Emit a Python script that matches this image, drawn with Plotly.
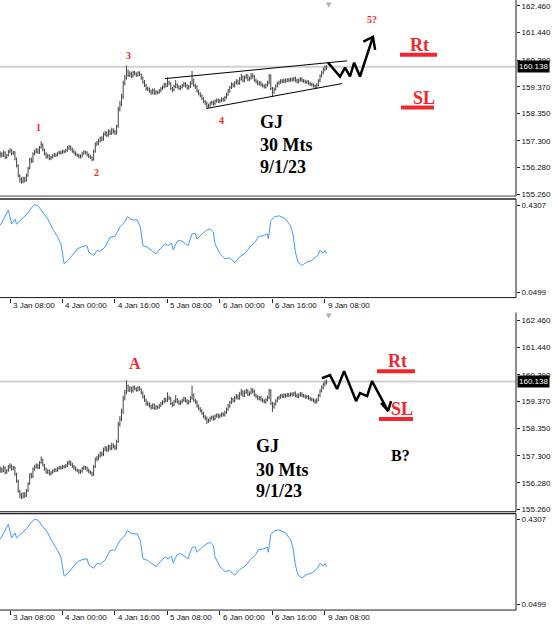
import plotly.graph_objects as go

W, H = 553, 625

# ---------------- data (GBPJPY 30 min bars) ----------------
bar_close = [
    156.80, 156.72, 156.85, 156.66, 156.74, 156.88, 156.92, 156.80, 156.86, 156.60,
    156.35, 155.95, 155.82, 155.74, 155.86, 155.78, 155.98, 156.25, 156.58, 156.52,
    156.80, 156.88, 156.95, 156.86, 157.05, 157.15, 156.95, 156.80, 156.68, 156.74,
    156.62, 156.66, 156.72, 156.78, 156.74, 156.82, 156.86, 156.84, 156.90, 156.88,
    156.94, 157.02, 157.08, 156.98, 156.90, 156.84, 156.78, 156.74, 156.68, 156.72,
    156.82, 156.88, 156.84, 156.76, 156.70, 156.66, 156.58, 156.90, 157.18, 157.22,
    157.30, 157.40, 157.36, 157.55, 157.60, 157.52, 157.66, 157.58, 157.72, 157.65,
    157.60, 157.85, 158.50, 158.70, 158.98, 159.50, 159.70, 159.98, 159.80, 159.86,
    159.78, 159.92, 159.86, 159.80, 159.90, 159.84, 159.70, 159.55, 159.42, 159.30,
    159.28, 159.20, 159.14, 159.24, 159.12, 159.18, 159.14, 159.22, 159.30, 159.36,
    159.46, 159.40, 159.55, 159.48, 159.30, 159.24, 159.38, 159.44, 159.36, 159.30,
    159.36, 159.42, 159.48, 159.40, 159.32, 159.38, 159.50, 159.62, 159.42, 159.36,
    159.20, 159.10, 159.02, 158.92, 158.80, 158.74, 158.62, 158.66, 158.74, 158.78,
    158.72, 158.82, 158.86, 158.80, 158.84, 158.90, 158.86, 158.96, 159.08, 159.20,
    159.34, 159.46, 159.40, 159.52, 159.58, 159.50, 159.66, 159.74, 159.60, 159.72,
    159.78, 159.64, 159.70, 159.80, 159.76, 159.62, 159.56, 159.48, 159.52, 159.44,
    159.40, 159.36, 159.44, 159.52, 159.78, 159.30, 159.16, 159.28, 159.40, 159.50,
    159.54, 159.60, 159.56, 159.62, 159.58, 159.64, 159.60, 159.66, 159.62, 159.68,
    159.60, 159.56, 159.62, 159.66, 159.60, 159.58, 159.54, 159.56, 159.50, 159.46,
    159.44, 159.40, 159.36, 159.42, 159.60, 159.78, 159.90, 160.02, 160.08, 160.14,
]
bar_high = [
    156.90, 156.86, 156.93, 156.90, 156.80, 156.95, 157.02, 156.98, 156.92, 156.90,
    156.66, 156.40, 156.02, 155.90, 155.92, 155.92, 156.04, 156.30, 156.64, 156.66,
    156.86, 156.96, 157.02, 157.00, 157.10, 157.28, 157.20, 157.00, 156.86, 156.80,
    156.78, 156.72, 156.78, 156.84, 156.82, 156.88, 156.92, 156.92, 156.96, 156.95,
    157.00, 157.10, 157.14, 157.12, 157.04, 156.96, 156.90, 156.82, 156.80, 156.78,
    156.88, 156.94, 156.92, 156.90, 156.82, 156.76, 156.70, 156.96, 157.24, 157.30,
    157.38, 157.46, 157.48, 157.62, 157.68, 157.66, 157.74, 157.72, 157.80, 157.78,
    157.72, 157.92, 158.60, 158.82, 159.10, 159.60, 159.82, 160.18, 160.02, 159.96,
    159.94, 159.98, 159.98, 159.92, 159.96, 159.96, 159.88, 159.76, 159.62, 159.48,
    159.38, 159.34, 159.26, 159.30, 159.30, 159.24, 159.22, 159.28, 159.36, 159.42,
    159.52, 159.52, 159.72, 159.60, 159.54, 159.36, 159.44, 159.62, 159.50, 159.42,
    159.42, 159.48, 159.56, 159.54, 159.46, 159.44, 159.58, 159.98, 159.68, 159.48,
    159.42, 159.26, 159.16, 159.08, 158.98, 158.86, 158.80, 158.72, 158.80, 158.84,
    158.84, 158.88, 158.92, 158.92, 158.90, 158.96, 158.96, 159.02, 159.14, 159.28,
    159.40, 159.54, 159.52, 159.58, 159.66, 159.64, 159.74, 159.86, 159.80, 159.80,
    159.86, 159.84, 159.76, 159.90, 159.88, 159.82, 159.68, 159.62, 159.58, 159.58,
    159.50, 159.46, 159.50, 159.60, 159.86, 159.84, 159.36, 159.34, 159.46, 159.56,
    159.60, 159.66, 159.66, 159.68, 159.68, 159.70, 159.70, 159.72, 159.72, 159.74,
    159.76, 159.68, 159.68, 159.74, 159.72, 159.66, 159.64, 159.62, 159.62, 159.56,
    159.52, 159.50, 159.46, 159.50, 159.66, 159.84, 159.98, 160.10, 160.18, 160.20,
]
bar_low = [
    156.66, 156.66, 156.68, 156.60, 156.62, 156.70, 156.82, 156.74, 156.76, 156.55,
    156.28, 155.90, 155.70, 155.66, 155.68, 155.70, 155.74, 155.92, 156.20, 156.44,
    156.46, 156.74, 156.82, 156.80, 156.80, 157.00, 156.90, 156.74, 156.62, 156.62,
    156.56, 156.56, 156.62, 156.68, 156.68, 156.70, 156.78, 156.78, 156.80, 156.82,
    156.84, 156.88, 156.96, 156.92, 156.84, 156.78, 156.72, 156.68, 156.62, 156.62,
    156.66, 156.76, 156.78, 156.70, 156.64, 156.60, 156.52, 156.54, 156.84, 157.10,
    157.14, 157.24, 157.28, 157.30, 157.48, 157.44, 157.46, 157.52, 157.52, 157.58,
    157.52, 157.54, 157.80, 158.42, 158.62, 158.90, 159.42, 159.64, 159.74, 159.74,
    159.70, 159.72, 159.80, 159.74, 159.76, 159.78, 159.64, 159.48, 159.36, 159.22,
    159.20, 159.14, 159.06, 159.08, 159.06, 159.06, 159.08, 159.10, 159.16, 159.24,
    159.30, 159.34, 159.36, 159.42, 159.24, 159.16, 159.20, 159.32, 159.30, 159.24,
    159.24, 159.30, 159.36, 159.34, 159.26, 159.26, 159.32, 159.44, 159.36, 159.28,
    159.14, 159.04, 158.96, 158.86, 158.74, 158.66, 158.52, 158.56, 158.60, 158.68,
    158.64, 158.66, 158.76, 158.74, 158.74, 158.78, 158.80, 158.80, 158.90, 159.02,
    159.14, 159.28, 159.34, 159.34, 159.46, 159.44, 159.44, 159.60, 159.54, 159.54,
    159.66, 159.58, 159.58, 159.64, 159.68, 159.56, 159.50, 159.42, 159.42, 159.38,
    159.34, 159.30, 159.30, 159.38, 159.46, 159.24, 158.98, 159.10, 159.22, 159.34,
    159.44, 159.48, 159.50, 159.50, 159.52, 159.54, 159.54, 159.56, 159.56, 159.58,
    159.54, 159.50, 159.50, 159.56, 159.54, 159.52, 159.48, 159.48, 159.44, 159.40,
    159.38, 159.34, 159.28, 159.30, 159.38, 159.54, 159.72, 159.84, 159.96, 160.02,
]
first_open = 156.74
last_price = 160.138

# oscillator (blue line) points: bar index, value
ind_x = [0, 4, 5, 7, 9, 10, 13, 16, 19.5, 21,
         23, 26, 29, 32, 35, 37, 38, 39, 41.5, 44,
         47, 50, 53, 54, 57, 59, 61, 64, 67, 70,
         73, 76, 77.5, 80.5, 83.5, 85.5, 87, 89.5, 92.5, 95,
         97.5, 100.5, 102.5, 104.5, 105.5, 108, 110, 111.5, 114.5, 117,
         119, 120, 123, 126, 128, 130, 131, 134, 137, 140,
         143, 146, 149.5, 152.5, 155.5, 157.5, 160.5, 163, 163.5, 165,
         167.5, 170, 174, 177, 178.5, 180, 181.5, 184, 187, 190,
         193.5, 195, 197, 198, 199]
ind_y = [0.341, 0.392, 0.409, 0.348, 0.370, 0.348, 0.370, 0.389, 0.422, 0.432,
         0.428, 0.400, 0.370, 0.327, 0.292, 0.262, 0.219, 0.176, 0.190, 0.211,
         0.240, 0.250, 0.254, 0.227, 0.211, 0.233, 0.230, 0.248, 0.291, 0.294,
         0.336, 0.357, 0.380, 0.366, 0.366, 0.336, 0.254, 0.248, 0.233, 0.219,
         0.240, 0.262, 0.254, 0.265, 0.236, 0.274, 0.277, 0.269, 0.254, 0.305,
         0.308, 0.283, 0.305, 0.322, 0.327, 0.313, 0.262, 0.219, 0.197, 0.201,
         0.180, 0.205, 0.222, 0.250, 0.269, 0.294, 0.298, 0.305, 0.283, 0.363,
         0.380, 0.384, 0.370, 0.341, 0.305, 0.226, 0.183, 0.168, 0.183, 0.190,
         0.211, 0.233, 0.222, 0.233, 0.219]

price_ticks = [155.26, 156.28, 157.30, 158.35, 159.37, 160.39, 161.44, 162.46]
price_tick_text = ["155.260", "156.280", "157.300", "158.350", "159.370", "160.390", "161.440", "162.460"]
ind_ticks = [0.0499, 0.4307]
ind_tick_text = ["0.0499", "0.4307"]
date_bars = [6, 38, 70, 102, 134, 166, 198]
date_labels = ["3 Jan 08:00", "4 Jan 00:00", "4 Jan 16:00", "5 Jan 08:00",
               "6 Jan 00:00", "6 Jan 16:00", "9 Jan 08:00"]

# hand-drawn analysis lines (bar index / price)
wedge_up_x, wedge_up_y = [100.5, 211.5], [159.68, 160.36]
wedge_lo_x, wedge_lo_y = [126.1, 208.4], [158.54, 159.49]
top_proj_x = [199.9, 207.2, 210.3, 213.3, 215.8, 219.4, 227.3]
top_proj_y = [160.29, 159.76, 160.10, 159.76, 160.29, 159.76, 161.28]
top_head_x = [221.4, 227.3, 228.6]
top_head_y = [161.10, 161.28, 160.78]
bot_proj_x = [196.2, 201.1, 205.4, 209.7, 217.0, 219.4, 223.7, 226.7, 236.5]
bot_proj_y = [160.26, 160.38, 159.85, 160.53, 159.39, 159.69, 159.58, 160.15, 159.01]
bot_head_x = [232.2, 236.5, 238.3]
bot_head_y = [159.315, 159.012, 159.39]

# ---------------- figure ----------------
def fx(px):
    return px / W

def fy(py):
    return 1 - py / H

RIGHT = 516
XR = [-0.1, 314.5]
BAR_C = "#454545"
BLUE = "#3d9bff"
RED = "#f2262b"
TICKF = dict(family="Liberation Sans, Arial", size=8, color="#111111")

opens = [first_open] + bar_close[:-1]
idx = list(range(len(bar_close)))

fig = go.Figure()
for xa, ya in [("x", "y"), ("x3", "y3")]:
    fig.add_trace(go.Ohlc(
        x=idx, open=opens, high=bar_high, low=bar_low, close=bar_close,
        xaxis=xa, yaxis=ya, tickwidth=0.3,
        increasing=dict(line=dict(color=BAR_C, width=1)),
        decreasing=dict(line=dict(color=BAR_C, width=1)),
        hoverinfo="skip", showlegend=False))
for xa, ya in [("x2", "y2"), ("x4", "y4")]:
    fig.add_trace(go.Scatter(x=ind_x, y=ind_y, mode="lines", xaxis=xa, yaxis=ya,
                             line=dict(color=BLUE, width=1), hoverinfo="skip", showlegend=False))

def line_trace(xs, ys, xa, ya, width, color="black"):
    fig.add_trace(go.Scatter(x=xs, y=ys, mode="lines", xaxis=xa, yaxis=ya,
                             line=dict(color=color, width=width), hoverinfo="skip",
                             showlegend=False, cliponaxis=False))

line_trace(wedge_up_x, wedge_up_y, "x", "y", 1)
line_trace(wedge_lo_x, wedge_lo_y, "x", "y", 1)
line_trace(top_proj_x, top_proj_y, "x", "y", 2.5)
line_trace(top_head_x, top_head_y, "x", "y", 2.5)
line_trace(bot_proj_x, bot_proj_y, "x3", "y3", 2.5)
line_trace(bot_head_x, bot_head_y, "x3", "y3", 2.5)

P1 = (0, 197)
I1 = (200, 299)
P2 = (316, 514)
I2 = (516, 613)

def xax(anchor, ticks):
    d = dict(domain=[0, fx(RIGHT)], range=XR, anchor=anchor, showgrid=False, zeroline=False,
             showline=False, showticklabels=False, fixedrange=True,
             rangeslider=dict(visible=False))
    if ticks:
        d.update(tickmode="array", tickvals=date_bars, ticks="outside", ticklen=4,
                 tickcolor="#222222", tickwidth=1)
    else:
        d.update(ticks="")
    return d

def yax(anchor, dom, rng, tv, tt):
    return dict(domain=[fy(dom[1]), fy(dom[0])], range=rng, anchor=anchor, side="right",
                showgrid=False, zeroline=False, showline=False, tickmode="array",
                tickvals=tv, ticktext=tt, ticks="outside", ticklen=3, tickcolor="#222222",
                tickfont=TICKF, fixedrange=True)

fig.update_layout(
    width=W, height=H, margin=dict(l=0, r=0, t=0, b=0),
    paper_bgcolor="white", plot_bgcolor="white", showlegend=False,
    xaxis=xax("y", False), xaxis2=xax("y2", True), xaxis3=xax("y3", False), xaxis4=xax("y4", True),
    yaxis=yax("x", P1, [155.184, 162.689], price_ticks, price_tick_text),
    yaxis2=yax("x2", I1, [0.0283, 0.4567], ind_ticks, ind_tick_text),
    yaxis3=yax("x3", P2, [155.184, 162.687], price_ticks, price_tick_text),
    yaxis4=yax("x4", I2, [0.0233, 0.4573], ind_ticks, ind_tick_text),
)

shapes = []

def pline(x0, y0, x1, y1, color="#1a1a1a", width=1):
    shapes.append(dict(type="line", xref="paper", yref="paper", x0=fx(x0), y0=fy(y0),
                       x1=fx(x1), y1=fy(y1), line=dict(color=color, width=width)))

# current price lines
for xa, ya in [("x", "y"), ("x3", "y3")]:
    shapes.append(dict(type="line", xref=xa, yref=ya, x0=XR[0], x1=XR[1], y0=last_price,
                       y1=last_price, line=dict(color="#d0d0d0", width=2), layer="below"))

# window frames
pline(0, P1[1], RIGHT, P1[1], "#444444", 1)
pline(RIGHT, 0, RIGHT, P1[1])
pline(0, I1[0], RIGHT, I1[0], "#222222", 1.5)
pline(0, I1[1], RIGHT, I1[1])
pline(RIGHT, I1[0], RIGHT, I1[1])
pline(0, P2[1], RIGHT, P2[1], "#444444", 1)
pline(RIGHT, P2[0] - 2, RIGHT, P2[1])
pline(0, I2[0], RIGHT, I2[0], "#222222", 1.5)
pline(0, I2[1], RIGHT, I2[1])
pline(RIGHT, I2[0], RIGHT, I2[1])

# red underlines
pline(400, 55, 437, 55, RED, 4)
pline(401, 108, 434, 108, RED, 4)
pline(377, 373, 415, 373, RED, 4)
pline(379, 421, 413, 421, RED, 4)
fig.update_layout(shapes=shapes)

def txt(x, y, s, size, color="black", anchor="center", fam="Liberation Serif, Times New Roman",
        bold=True):
    fig.add_annotation(x=fx(x), y=fy(y), xref="paper", yref="paper",
                       text=f"<b>{s}</b>" if bold else s, showarrow=False,
                       xanchor=anchor, yanchor="middle",
                       font=dict(family=fam, size=size, color=color))

# wave labels (top)
txt(38, 128, "1", 10, RED)
txt(97, 173, "2", 10, RED)
txt(128, 56, "3", 10, RED)
txt(221, 121, "4", 10, RED)
txt(372, 20, "5?", 10, RED)
txt(419, 45, "Rt", 18, RED)
txt(424, 98, "SL", 18, RED)
txt(258, 123, "GJ", 18, anchor="left")
txt(258, 146, "30 Mts", 18, anchor="left")
txt(258, 168, "9/1/23", 18, anchor="left")

# bottom
txt(135, 365, "A", 16, RED)
txt(397, 363, "Rt", 18, RED)
txt(402, 411, "SL", 18, RED)
txt(400, 458, "B?", 16)
txt(254, 448, "GJ", 18, anchor="left")
txt(254, 472, "30 Mts", 18, anchor="left")
txt(254, 493, "9/1/23", 18, anchor="left")

# shift markers
txt(329, 5, "▼", 7, "#b0b0b0", bold=False, fam="DejaVu Sans")
txt(329, 318, "▼", 7, "#b0b0b0", bold=False, fam="DejaVu Sans")

# date labels
for xa, ypix in [("x2", 307), ("x4", 620)]:
    for b, lab in zip(date_bars, date_labels):
        fig.add_annotation(x=b, xref=xa, y=fy(ypix), yref="paper", text=lab, showarrow=False,
                           xanchor="left", yanchor="middle", xshift=1, font=TICKF)

# current price tag
for ya in ["y", "y3"]:
    fig.add_annotation(x=fx(RIGHT + 1), xref="paper", y=last_price, yref=ya, text="160.138",
                       showarrow=False, xanchor="left", yanchor="middle", bgcolor="black",
                       borderpad=1, font=dict(family="Liberation Sans, Arial", size=8, color="white"))

fig.write_html("out.html")
